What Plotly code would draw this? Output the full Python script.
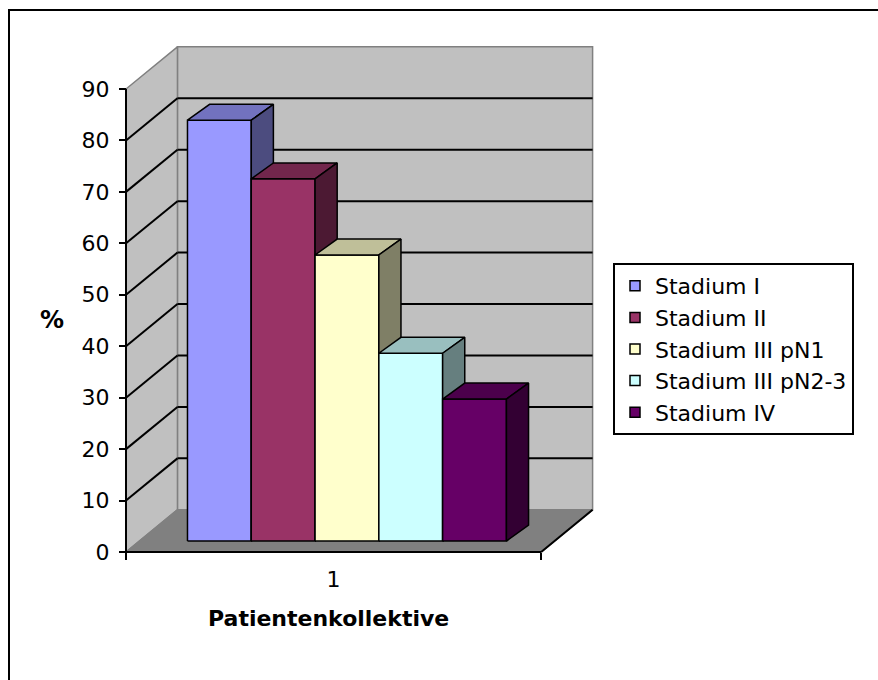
import plotly.graph_objects as go

# ---- data -------------------------------------------------------------
series_names = ["Stadium I", "Stadium II", "Stadium III pN1",
                "Stadium III pN2-3", "Stadium IV"]
series_values = [81.8, 70.4, 55.6, 36.5, 27.6]
series_colors = ["#9999FF", "#993366", "#FFFFCC", "#CCFFFF", "#660066"]
category_labels = ["1"]
y_tick_values = [0, 10, 20, 30, 40, 50, 60, 70, 80, 90]
y_max = 90

# ---- 3-D look (oblique projection, all lengths in value units) --------
FIG_W, FIG_H = 878, 680
PX_PER_UNIT = 463 / 90          # vertical scale: pixels per percentage point
ORIGIN_PX = (126, 552)          # front-left floor corner (value 0)
FLOOR_W = 80.7                  # width of the category floor
DEPTH = (10.0, 8.2)             # full depth of walls / floor
BAR_PLANE = 0.26                # depth fraction where bar fronts stand
BAR_W = 12.4
BAR_DEPTH = (4.3, 3.1)
FONT = "DejaVu Sans"

WALL = "#C0C0C0"
FLOOR = "#808080"
EDGE = "#808080"


def shade(hex_color, k):
    h = hex_color.lstrip("#")
    r, g, b = (int(h[i:i + 2], 16) for i in (0, 2, 4))
    return "#{:02X}{:02X}{:02X}".format(int(r * k), int(g * k), int(b * k))


def poly(points, fill, line_color="black", width=1.5):
    xs = [p[0] for p in points] + [points[0][0]]
    ys = [p[1] for p in points] + [points[0][1]]
    return go.Scatter(x=xs, y=ys, mode="lines", fill="toself",
                      fillcolor=fill, line=dict(color=line_color, width=width),
                      hoverinfo="skip", showlegend=False)


def seg(p, q, color="black", width=2):
    return go.Scatter(x=[p[0], q[0]], y=[p[1], q[1]], mode="lines",
                      line=dict(color=color, width=width),
                      hoverinfo="skip", showlegend=False)


dx, dy = DEPTH
traces = []

# walls and floor
traces.append(poly([(dx, dy), (dx + FLOOR_W, dy), (dx + FLOOR_W, dy + y_max),
                    (dx, dy + y_max)], WALL, EDGE, 1.5))
traces.append(poly([(0, 0), (dx, dy), (dx, dy + y_max), (0, y_max)],
                   WALL, EDGE, 1.5))

# gridlines on back and side wall
for v in y_tick_values[1:-1]:
    traces.append(seg((dx, dy + v), (dx + FLOOR_W, dy + v)))
    traces.append(seg((0, v), (dx, dy + v)))

traces.append(poly([(0, 0), (FLOOR_W, 0), (FLOOR_W + dx, dy), (dx, dy)],
                   FLOOR, EDGE, 1.5))
traces.append(seg((FLOOR_W, 0), (FLOOR_W + dx, dy)))

# bars (left to right so each bar hides its neighbour's side)
px0, py0 = BAR_PLANE * dx, BAR_PLANE * dy
start = FLOOR_W / 2 - len(series_values) * BAR_W / 2 + px0
bdx, bdy = BAR_DEPTH
for i, (v, c) in enumerate(zip(series_values, series_colors)):
    x0 = start + i * BAR_W
    x1 = x0 + BAR_W
    y0 = py0
    y1 = py0 + v
    traces.append(poly([(x0, y0), (x1, y0), (x1, y1), (x0, y1)], c))
    traces.append(poly([(x0, y1), (x1, y1), (x1 + bdx, y1 + bdy),
                        (x0 + bdx, y1 + bdy)], shade(c, 0.75)))
    traces.append(poly([(x1, y0), (x1 + bdx, y0 + bdy),
                        (x1 + bdx, y1 + bdy), (x1, y1)], shade(c, 0.5)))

# axis lines
traces.append(seg((0, 0), (0, y_max)))
traces.append(seg((0, 0), (FLOOR_W, 0)))

# legend entries
for name, c in zip(series_names, series_colors):
    traces.append(go.Scatter(x=[None], y=[None], mode="markers", name=name,
                             marker=dict(symbol="square", size=10, color=c,
                                         line=dict(color="black", width=1.5))))

fig = go.Figure(traces)

x_range = [-ORIGIN_PX[0] / PX_PER_UNIT, (FIG_W - ORIGIN_PX[0]) / PX_PER_UNIT]
y_range = [-(FIG_H - ORIGIN_PX[1]) / PX_PER_UNIT, ORIGIN_PX[1] / PX_PER_UNIT]

fig.update_layout(
    width=FIG_W, height=FIG_H,
    margin=dict(l=0, r=0, t=0, b=0),
    paper_bgcolor="white", plot_bgcolor="white",
    font=dict(family=FONT, color="black"),
    xaxis=dict(range=x_range, showgrid=False, zeroline=False, showline=False,
               tickmode="array", tickvals=[FLOOR_W / 2], ticktext=category_labels,
               ticks="", tickfont=dict(size=22, family=FONT),
               ticklabelstandoff=12,
               minor=dict(tickmode="array", tickvals=[0, FLOOR_W],
                          ticks="outside", ticklen=7, tickwidth=2,
                          tickcolor="black"),
               anchor="free", position=(FIG_H - ORIGIN_PX[1]) / FIG_H,
               fixedrange=True),
    yaxis=dict(range=y_range, showgrid=False, zeroline=False, showline=False,
               tickmode="array", tickvals=y_tick_values,
               ticks="outside", ticklen=7, tickwidth=2, tickcolor="black",
               tickfont=dict(size=22, family=FONT),
               ticklabelstandoff=5,
               anchor="free", position=ORIGIN_PX[0] / FIG_W,
               fixedrange=True),
    legend=dict(x=613 / FIG_W, y=1 - 263 / FIG_H, xanchor="left", yanchor="top",
                bordercolor="black", borderwidth=2, bgcolor="white",
                font=dict(size=22, family=FONT)),
    annotations=[
        dict(text="<b>%</b>", x=(52 - ORIGIN_PX[0]) / PX_PER_UNIT,
             y=(ORIGIN_PX[1] - 320) / PX_PER_UNIT, xref="x", yref="y",
             showarrow=False, font=dict(size=24, family=FONT)),
        dict(text="<b>Patientenkollektive</b>", x=FLOOR_W / 2 - 1,
             y=(ORIGIN_PX[1] - 618) / PX_PER_UNIT, xref="x", yref="y",
             showarrow=False, font=dict(size=22, family=FONT)),
    ],
    shapes=[dict(type="rect", xref="paper", yref="paper",
                 x0=9 / FIG_W, x1=1.05, y0=-0.05, y1=1 - 10 / FIG_H,
                 line=dict(color="black", width=2), layer="above")],
)

fig.write_html("out.html")
